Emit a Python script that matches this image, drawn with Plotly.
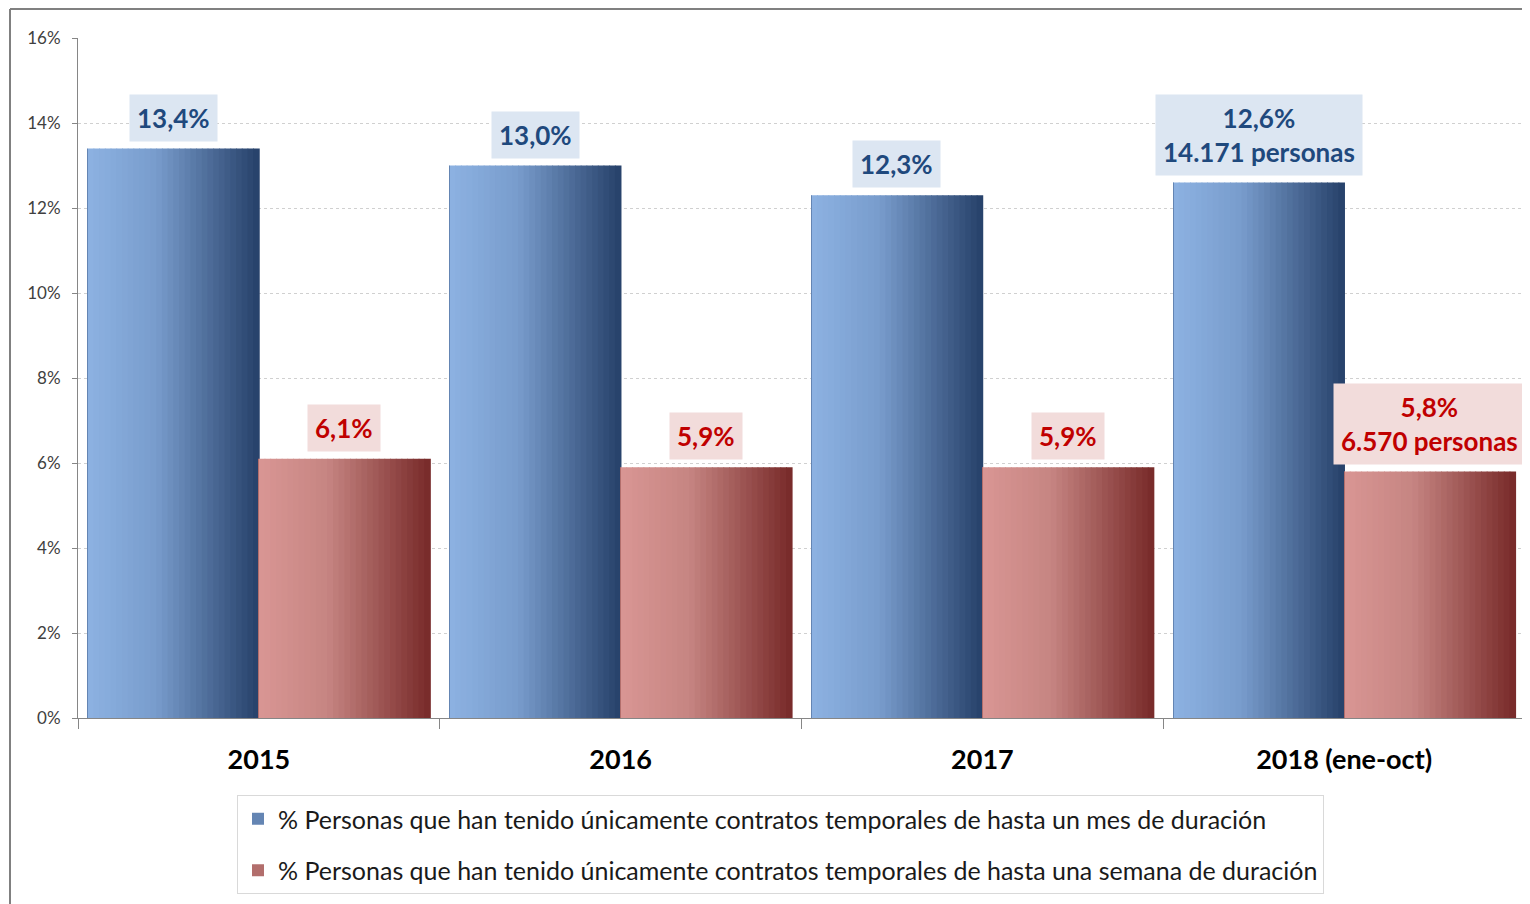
import plotly.graph_objects as go

categories = ["2015", "2016", "2017", "2018 (ene-oct)"]
mes_values = [0.134, 0.130, 0.123, 0.126]
semana_values = [0.061, 0.059, 0.059, 0.058]
mes_labels = ["13,4%", "13,0%", "12,3%", "12,6%<br>14.171 personas"]
semana_labels = ["6,1%", "5,9%", "5,9%", "5,8%<br>6.570 personas"]
series_names = [
    "% Personas que han tenido únicamente contratos temporales de hasta un mes de duración",
    "% Personas que han tenido únicamente contratos temporales de hasta una semana de duración",
]

# page is rendered with an 8px body margin, so the figure is 8px smaller
OFF = 8
W, H = 1530 - OFF, 904 - OFF
ML, MR, MT, MB = 78 - OFF, 5, 38 - OFF, 186
BAR_W = 0.473
N_SLICES = 30

def lerp(c1, c2, t):
    return "rgb({},{},{})".format(*[round(a + (b - a) * t) for a, b in zip(c1, c2)])

def grad(stops, t):
    for (t0, c0), (t1, c1) in zip(stops, stops[1:]):
        if t <= t1:
            return lerp(c0, c1, (t - t0) / (t1 - t0) if t1 > t0 else 0)
    return lerp(stops[-1][1], stops[-1][1], 0)

blue_stops = [(0.0, (141, 178, 226)), (0.4, (120, 156, 204)), (1.0, (38, 64, 105))]
red_stops = [(0.0, (217, 150, 148)), (0.4, (198, 133, 130)), (1.0, (119, 41, 40))]

fig = go.Figure()

series = [
    (mes_values, blue_stops, -BAR_W, series_names[0], "g1"),
    (semana_values, red_stops, 0.0, series_names[1], "g2"),
]
for vals, stops, off, name, grp in series:
    sw = BAR_W / N_SLICES
    for k in range(N_SLICES):
        t = (k + 0.5) / N_SLICES
        fig.add_trace(go.Bar(
            x=categories, y=vals, width=sw * 1.15, offset=off + k * sw,
            marker=dict(color=grad(stops, t), line=dict(width=0)),
            showlegend=False, legendgroup=grp, hoverinfo="skip",
        ))
    fig.add_trace(go.Bar(
        x=categories, y=vals, width=0.0001, offset=off,
        marker=dict(color=grad(stops, 0.55), line=dict(width=0)),
        name=name, legendgroup=grp, showlegend=True,
    ))

annotations = []
for i, (v, lab) in enumerate(zip(mes_values, mes_labels)):
    annotations.append(dict(
        x=i - BAR_W / 2, y=v, xref="x", yref="y", text=lab, showarrow=False,
        yanchor="bottom", yshift=7, font=dict(family="Lato", size=26, color="#1F497D", weight=700),
        bgcolor="#DCE6F2", borderpad=7,
    ))
for i, (v, lab) in enumerate(zip(semana_values, semana_labels)):
    annotations.append(dict(
        x=i + BAR_W / 2, y=v, xref="x", yref="y", text=lab, showarrow=False,
        yanchor="bottom", yshift=7, font=dict(family="Lato", size=26, color="#C00000", weight=700),
        bgcolor="#F2DCDB", borderpad=7,
    ))

pw = W - ML - MR
ph = H - MT - MB
x_left = (10 - OFF - ML) / pw
x_right = (W - ML) / pw
y_top = (ph + MT - 1) / ph
y_bot = -(MB) / ph

fig.update_layout(
    width=W, height=H,
    margin=dict(l=ML, r=MR, t=MT, b=MB),
    paper_bgcolor="white", plot_bgcolor="white",
    barmode="overlay",
    font=dict(family="Lato", color="#262626"),
    annotations=annotations,
    shapes=[
        dict(type="line", xref="paper", yref="paper", x0=x_left, x1=x_right, y0=y_top, y1=y_top,
             line=dict(color="#808080", width=2)),
        dict(type="line", xref="paper", yref="paper", x0=x_left, x1=x_left, y0=y_top, y1=y_bot,
             line=dict(color="#808080", width=2)),
    ],
    legend=dict(
        x=(237 - OFF - ML) / pw, y=(MT + ph - (795 - OFF)) / ph, xanchor="left", yanchor="top",
        font=dict(family="Lato", size=25, color="#1a1a1a"),
        bgcolor="white", bordercolor="#D9D9D9", borderwidth=1,
        tracegroupgap=16, itemsizing="constant", itemwidth=30,
    ),
    xaxis=dict(
        type="category", range=[-0.5, 3.5], tickson="boundaries",
        ticks="outside", ticklen=10, tickcolor="#868686",
        showline=True, linecolor="#868686", linewidth=1,
        showgrid=False,
        tickfont=dict(family="Lato", size=27, color="#000000", weight=700),
        ticklabelstandoff=18,
    ),
    yaxis=dict(
        range=[0, 0.16], dtick=0.02, tickformat=".0%",
        ticks="outside", ticklen=5, tickcolor="#868686",
        showline=True, linecolor="#868686", linewidth=1,
        showgrid=True, gridcolor="#D0D0D0", griddash="dot", gridwidth=1,
        zeroline=False,
        tickfont=dict(family="Lato", size=17, color="#404040"),
        ticklabelstandoff=8,
    ),
)

fig.write_html("out.html")
